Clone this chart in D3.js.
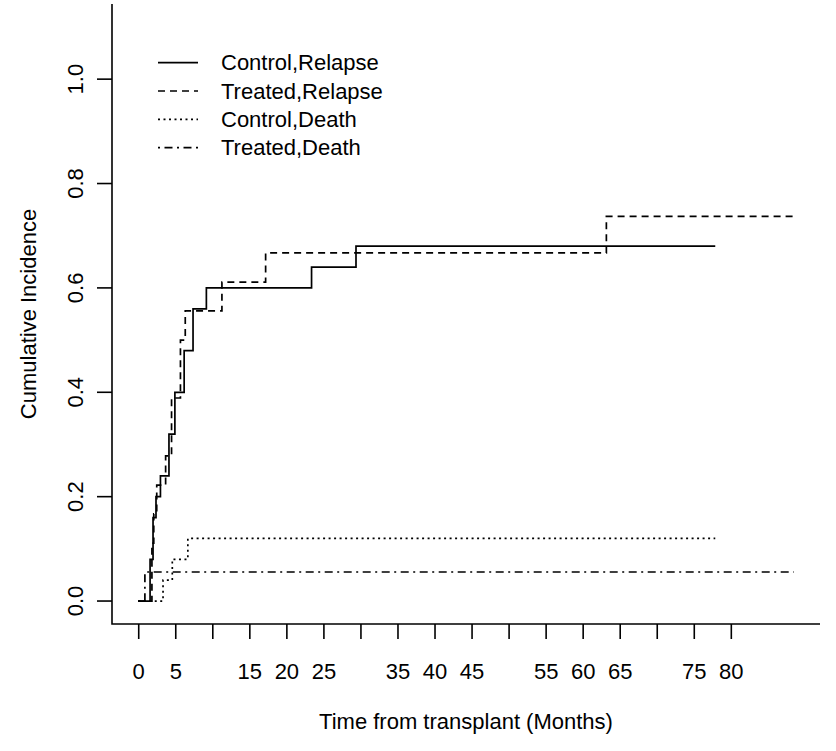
<!DOCTYPE html>
<html>
<head>
<meta charset="utf-8">
<script src="https://cdn.jsdelivr.net/npm/d3@7"></script>
<style>
  html, body { margin: 0; padding: 0; background: #fff; }
  svg { display: block; }
  text { font-family: "Liberation Sans", Arial, Helvetica, sans-serif; fill: #000; }
</style>
</head>
<body>
<svg id="chart" width="836" height="751"></svg>
<script>
// ---- data ----
const seriesNames = ["Control,Relapse", "Treated,Relapse", "Control,Death", "Treated,Death"];

const controlRelapseTime = [0, 1.6, 2.0, 2.4, 3.0, 4.15, 4.95, 6.2, 7.4, 9.2, 23.4, 29.4, 77.9];
const controlRelapseCI   = [0, 0.08, 0.16, 0.20, 0.24, 0.32, 0.40, 0.48, 0.56, 0.60, 0.64, 0.68, 0.68];

const treatedRelapseTime = [0, 1.85, 2.1, 2.5, 3.7, 4.5, 5.7, 6.35, 11.3, 17.2, 63.2, 88.5];
const treatedRelapseCI   = [0, 0.111, 0.167, 0.222, 0.278, 0.389, 0.5, 0.556, 0.611, 0.667, 0.737, 0.737];

const controlDeathTime = [0, 3.35, 4.6, 6.7, 77.9];
const controlDeathCI   = [0, 0.04, 0.08, 0.12, 0.12];

const treatedDeathTime = [0, 0.9, 88.5];
const treatedDeathCI   = [0, 0.0556, 0.0556];

const xTicks = [0, 5, 10, 15, 20, 25, 30, 35, 40, 45, 50, 55, 60, 65, 70, 75, 80];
const xTickLabels = [0, 5, 15, 20, 25, 35, 40, 45, 55, 60, 65, 75, 80];
const yTicks = [0.0, 0.2, 0.4, 0.6, 0.8, 1.0];

const xTitle = "Time from transplant (Months)";
const yTitle = "Cumulative Incidence";

// ---- layout ----
const svg = d3.select("#chart");
const plot = { left: 112, right: 820, top: 4, bottom: 624 };
const xMax = 88.5, yMax = 1.1;
const x = d3.scaleLinear().domain([-0.04 * xMax, xMax * 1.04]).range([plot.left, plot.right]);
const y = d3.scaleLinear().domain([-0.04 * yMax, yMax * 1.04]).range([plot.bottom, plot.top]);

const FONT = 22;
const LW = 1.7;
const dashes = ["none", "7,5", "2,3.5", "2,4.5,8,4.5"];

// L-shaped box
svg.append("path")
  .attr("d", `M${plot.left},${plot.top}V${plot.bottom}H${plot.right}`)
  .attr("fill", "none").attr("stroke", "#000").attr("stroke-width", 1.6);

// x axis
const xAxis = d3.axisBottom(x)
  .tickValues(xTicks)
  .tickSize(15)
  .tickSizeOuter(0)
  .tickPadding(24)
  .tickFormat(d => xTickLabels.includes(d) ? String(d) : "");
const gx = svg.append("g").attr("transform", `translate(0,${plot.bottom})`).call(xAxis);
gx.select(".domain").remove();
gx.selectAll(".tick line").attr("stroke", "#000").attr("stroke-width", 1.6);
gx.selectAll(".tick text").attr("font-size", FONT).attr("fill", "#000")
  .style("font-family", '"Liberation Sans", Arial, sans-serif');

// y axis ticks
const gy = svg.append("g");
gy.selectAll("line").data(yTicks).join("line")
  .attr("x1", plot.left - 15).attr("x2", plot.left)
  .attr("y1", d => y(d)).attr("y2", d => y(d))
  .attr("stroke", "#000").attr("stroke-width", 1.6);
gy.selectAll("text").data(yTicks).join("text")
  .attr("transform", d => `translate(${plot.left - 29},${y(d)}) rotate(-90)`)
  .attr("text-anchor", "middle")
  .attr("font-size", FONT)
  .text(d => d.toFixed(1));

// titles
svg.append("text")
  .attr("x", (plot.left + plot.right) / 2).attr("y", 729)
  .attr("text-anchor", "middle").attr("font-size", FONT)
  .text(xTitle);
svg.append("text")
  .attr("transform", `translate(36,${(plot.top + plot.bottom) / 2}) rotate(-90)`)
  .attr("text-anchor", "middle").attr("font-size", FONT)
  .text(yTitle);

// curves
const series = [
  { t: controlRelapseTime, v: controlRelapseCI },
  { t: treatedRelapseTime, v: treatedRelapseCI },
  { t: controlDeathTime, v: controlDeathCI },
  { t: treatedDeathTime, v: treatedDeathCI }
];
const line = d3.line().x(d => x(d[0])).y(d => y(d[1])).curve(d3.curveStepAfter);
series.forEach((s, i) => {
  svg.append("path")
    .datum(s.t.map((t, j) => [t, s.v[j]]))
    .attr("d", line)
    .attr("fill", "none")
    .attr("stroke", "#000")
    .attr("stroke-width", LW)
    .attr("stroke-dasharray", dashes[i]);
});

// legend
const legY0 = 62.7, legDy = 28.3;
const leg = svg.append("g");
seriesNames.forEach((name, i) => {
  const yy = legY0 + i * legDy;
  leg.append("line")
    .attr("x1", 158).attr("x2", 198).attr("y1", yy).attr("y2", yy)
    .attr("stroke", "#000").attr("stroke-width", LW)
    .attr("stroke-dasharray", dashes[i]);
  leg.append("text")
    .attr("x", 221).attr("y", yy).attr("dy", "0.35em")
    .attr("font-size", FONT)
    .text(name);
});
</script>
</body>
</html>
